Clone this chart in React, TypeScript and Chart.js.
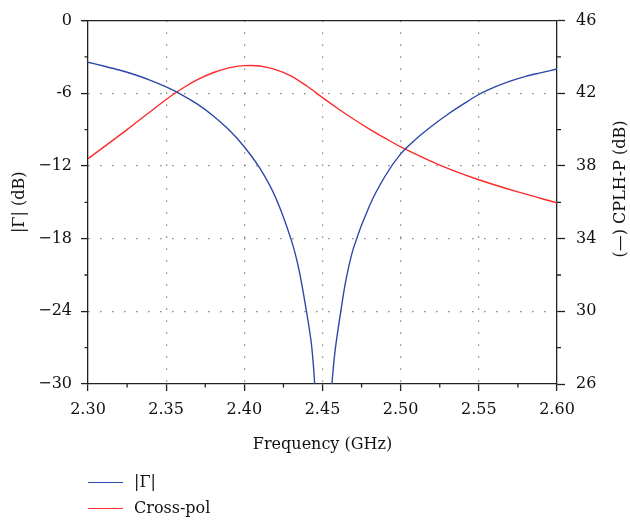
import React, { useEffect, useRef } from "react";
import { Chart, registerables } from "chart.js";

Chart.register(...registerables);

// Frequency axis (GHz) and |Γ| (dB) (values below -30 are off-scale)
const gammaFreq = [2.3, 2.31, 2.32, 2.33, 2.34, 2.35, 2.36, 2.37, 2.38, 2.39, 2.4, 2.41, 2.42, 2.43, 2.435, 2.44, 2.443, 2.445, 2.4465, 2.45, 2.4535, 2.456, 2.458, 2.4617, 2.465, 2.47, 2.48, 2.49, 2.5, 2.51, 2.52, 2.53, 2.54, 2.55, 2.56, 2.57, 2.58, 2.59, 2.6];
const gammaDb = [-3.44, -3.75, -4.08, -4.47, -4.93, -5.48, -6.13, -6.9, -7.85, -9.0, -10.43, -12.2, -14.6, -18.1, -20.6, -24.2, -26.8, -30, -34, -40, -34, -30, -27.3, -24, -21.4, -18.7, -15.3, -12.85, -11.0, -9.75, -8.7, -7.75, -6.9, -6.1, -5.5, -5.0, -4.6, -4.3, -4.0];

// Cross-pol CPLH-P (dB)
const xpolFreq = [2.3, 2.325, 2.35, 2.36, 2.37, 2.38, 2.39, 2.4, 2.41, 2.42, 2.43, 2.44, 2.45, 2.46, 2.47, 2.48, 2.49, 2.5, 2.525, 2.55, 2.575, 2.6];
const xpolDb = [38.4, 40.0, 41.66, 42.25, 42.75, 43.13, 43.4, 43.52, 43.5, 43.3, 42.95, 42.4, 41.76, 41.15, 40.57, 40.03, 39.53, 39.05, 38.05, 37.24, 36.57, 35.97];

const xTicks = [2.3, 2.35, 2.4, 2.45, 2.5, 2.55, 2.6];
const leftTickLabels: Record<string, string> = { "0": "0", "-6": "-6", "-12": "\u221212", "-18": "\u221218", "-24": "\u221224", "-30": "\u221230" };
const rightTicks = [26, 30, 34, 38, 42, 46];

const seriesNames = ["|\u0393|", "Cross-pol"];
const seriesColors = ["#2c48a8", "#ff2a2a"];

const FONT = "'DejaVu Serif', serif";

export default function App() {
  const ref = useRef<HTMLCanvasElement | null>(null);

  useEffect(() => {
    if (!ref.current) return;
    const gridColor = (c: any) => {
      const s = c.scale;
      if (!c.tick) return "rgba(0,0,0,0)";
      const v = c.tick.value;
      if (Math.abs(v - s.min) < 1e-9 || Math.abs(v - s.max) < 1e-9) return "rgba(0,0,0,0)";
      return "#666";
    };

    const extras = {
      id: "extras",
      afterDraw(chart: any) {
        const { ctx, chartArea } = chart;
        const xs = chart.scales.x;
        const yl = chart.scales.y;
        const yr = chart.scales.y1;
        ctx.save();
        ctx.strokeStyle = "#222";
        ctx.lineWidth = 1.3;
        ctx.beginPath();
        // top border
        ctx.moveTo(chartArea.left - 6, chartArea.top);
        ctx.lineTo(chartArea.right, chartArea.top);
        // minor ticks x
        for (let i = 0; i < xTicks.length - 1; i++) {
          const v = (xTicks[i] + xTicks[i + 1]) / 2;
          const p = xs.getPixelForValue(v);
          ctx.moveTo(p, chartArea.bottom);
          ctx.lineTo(p, chartArea.bottom + 3.5);
        }
        // minor ticks left
        for (let v = -27; v < 0; v += 6) {
          const p = yl.getPixelForValue(v);
          ctx.moveTo(chartArea.left, p);
          ctx.lineTo(chartArea.left - 3.5, p);
        }
        // minor ticks right
        for (let i = 0; i < rightTicks.length - 1; i++) {
          const v = (rightTicks[i] + rightTicks[i + 1]) / 2;
          const p = yr.getPixelForValue(v);
          ctx.moveTo(chartArea.right, p);
          ctx.lineTo(chartArea.right + 4, p);
        }
        ctx.stroke();
        // right axis title, reading bottom to top
        ctx.fillStyle = "#111";
        ctx.font = "16px " + FONT;
        ctx.textAlign = "center";
        ctx.textBaseline = "middle";
        ctx.translate(621, 189);
        ctx.rotate(-Math.PI / 2);
        ctx.fillText("(\u2014) CPLH-P (dB)", 0, 0);
        ctx.restore();
      },
    };

    const chart = new Chart(ref.current, {
      type: "line",
      data: {
        datasets: [
          {
            label: seriesNames[0],
            data: gammaFreq.map((f, i) => ({ x: f, y: gammaDb[i] })),
            borderColor: seriesColors[0],
            borderWidth: 1.4,
            pointRadius: 0,
            tension: 0.3,
            yAxisID: "y",
          },
          {
            label: seriesNames[1],
            data: xpolFreq.map((f, i) => ({ x: f, y: xpolDb[i] })),
            borderColor: seriesColors[1],
            borderWidth: 1.4,
            pointRadius: 0,
            tension: 0.3,
            yAxisID: "y1",
          },
        ],
      },
      options: {
        responsive: false,
        animation: false,
        devicePixelRatio: 1,
        layout: { padding: { top: 15, left: 0, right: 0, bottom: 0 } },
        plugins: { legend: { display: false }, tooltip: { enabled: false } },
        font: { family: FONT, size: 16 },
        scales: {
          x: {
            type: "linear",
            min: 2.3,
            max: 2.6,
            afterFit: (s: any) => { s.height = 140; },
            afterBuildTicks: (s: any) => { s.ticks = xTicks.map((v) => ({ value: v })); },
            ticks: {
              font: { family: FONT, size: 16 },
              color: "#111",
              padding: 9,
              maxRotation: 0,
              callback: (v: any) => Number(v).toFixed(2),
            },
            grid: {
              color: gridColor,
              lineWidth: 1.2,
              tickLength: 7,
              tickColor: "#222",
              tickWidth: 1.3,
            },
            border: { color: "#222", width: 1.3, dash: [1.2, 10.8] },
            title: {
              display: true,
              text: "Frequency (GHz)",
              font: { family: FONT, size: 16 },
              color: "#111",
              padding: { top: 0, bottom: 70 },
            },
          },
          y: {
            type: "linear",
            position: "left",
            min: -30,
            max: 0,
            afterFit: (s: any) => { s.width = 88; },
            ticks: {
              stepSize: 6,
              font: { family: FONT, size: 16 },
              color: "#111",
              padding: 9,
              callback: (v: any) => leftTickLabels[String(v)] ?? String(v),
            },
            grid: {
              color: gridColor,
              lineWidth: 1.2,
              tickLength: 7,
              tickColor: "#222",
              tickWidth: 1.3,
            },
            border: { color: "#222", width: 1.3, dash: [1.2, 10.8] },
            title: {
              display: true,
              text: "|\u0393| (dB)",
              font: { family: FONT, size: 16 },
              color: "#111",
              padding: { top: 10, bottom: 0 },
            },
          },
          y1: {
            type: "linear",
            position: "right",
            min: 26,
            max: 46,
            afterFit: (s: any) => { s.width = 73; },
            ticks: {
              stepSize: 4,
              font: { family: FONT, size: 16 },
              color: "#111",
              padding: 11,
            },
            grid: {
              drawOnChartArea: false,
              tickLength: 8,
              tickColor: "#222",
              tickWidth: 1.3,
            },
            border: { color: "#222", width: 1.3 },
          },
        },
      } as any,
      plugins: [extras],
    });
    return () => chart.destroy();
  }, []);

  const legendRow = (i: number, top: number) => (
    <div key={i} style={{ position: "absolute", left: 88, top: top - 12, height: 24, display: "flex", alignItems: "center" }}>
      <div style={{ width: 35, height: 0, borderTop: `1.5px solid ${seriesColors[i]}` }} />
      <span style={{ marginLeft: 11, fontFamily: FONT, fontSize: 16, color: "#111", lineHeight: "24px" }}>{seriesNames[i]}</span>
    </div>
  );

  return (
    <div style={{ position: "fixed", left: 0, top: 0, width: 630, height: 524, background: "#fff" }}>
      <canvas ref={ref} width={630} height={524} style={{ position: "absolute", left: 0, top: 0, width: 630, height: 524 }} />
      {legendRow(0, 482)}
      {legendRow(1, 508)}
    </div>
  );
}
